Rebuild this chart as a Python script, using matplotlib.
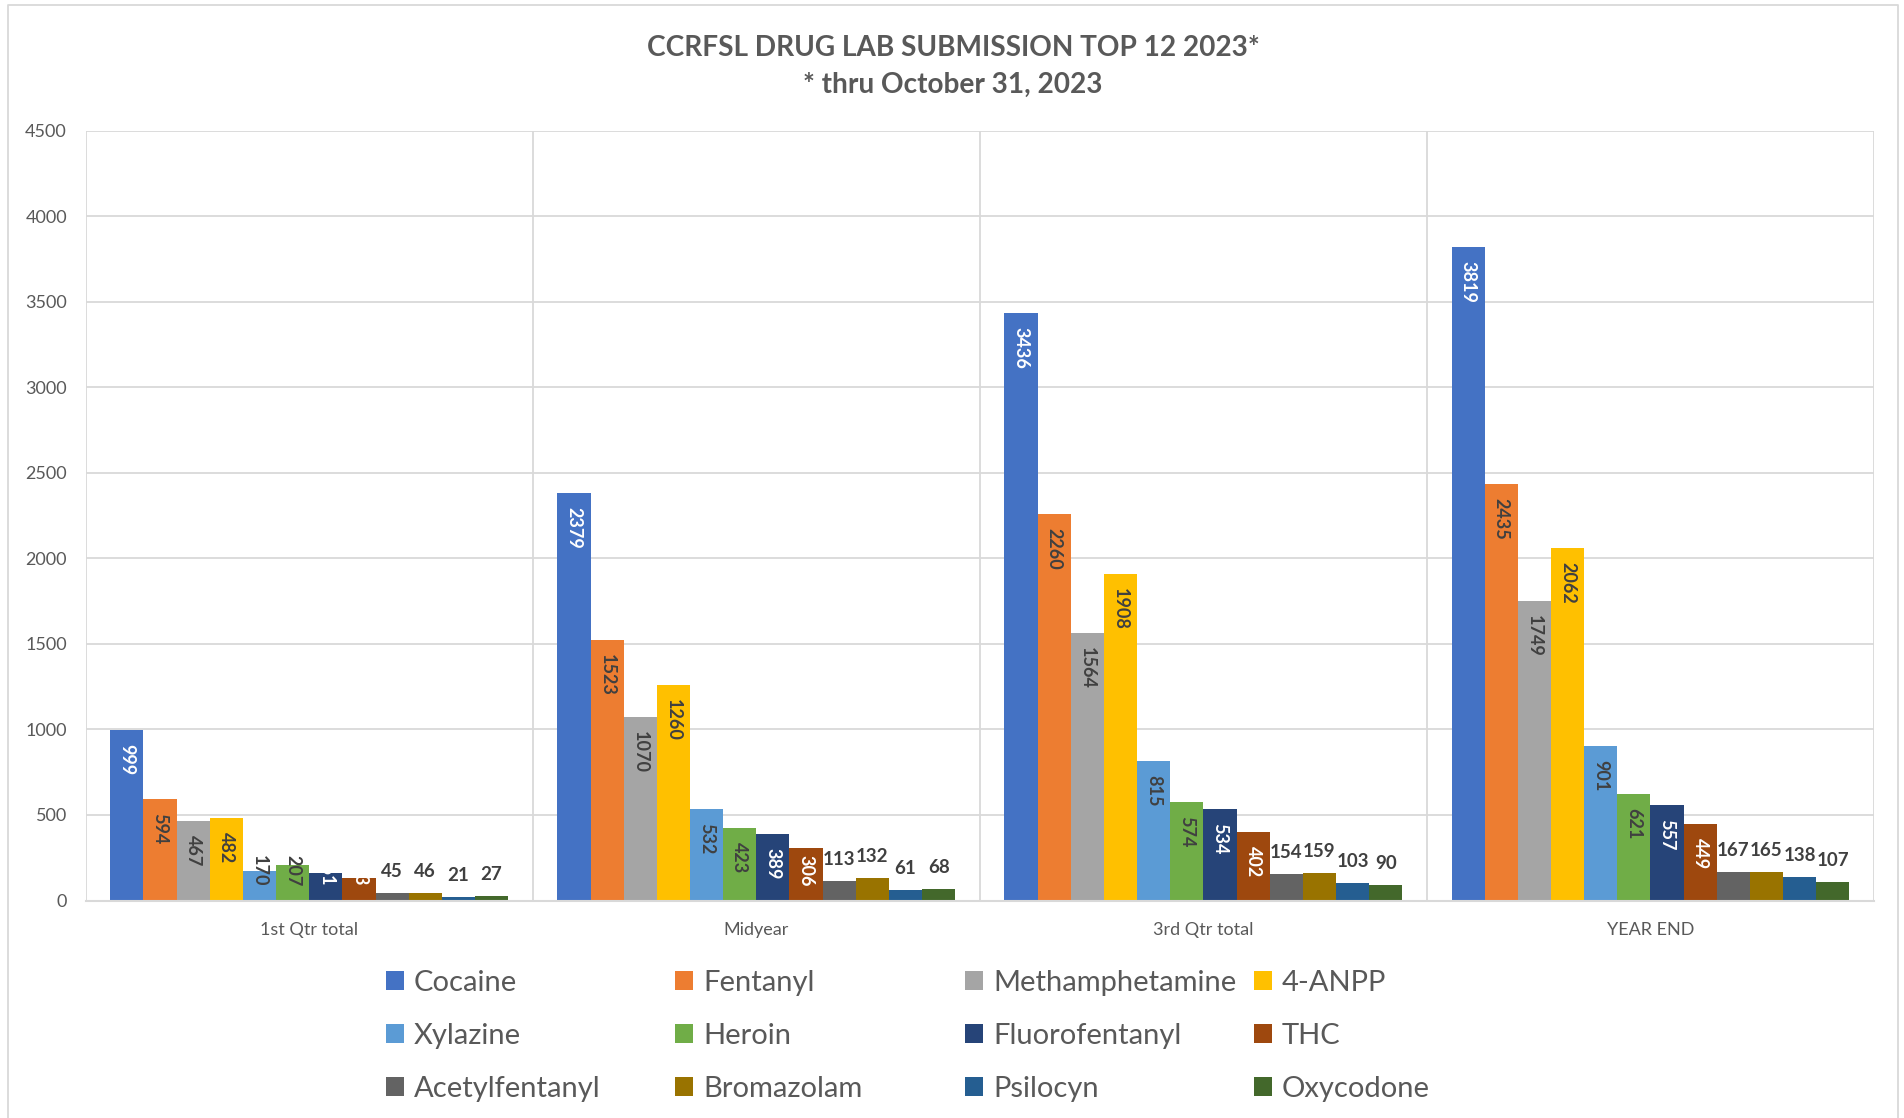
import matplotlib
matplotlib.use('Agg')
import matplotlib.pyplot as plt
from matplotlib.lines import Line2D
import numpy as np

plt.rcParams['font.family'] = ['Lato', 'DejaVu Sans']

# ---------------- data ----------------
categories = ["1st Qtr total", "Midyear", "3rd Qtr total", "YEAR END"]
series_names = ["Cocaine", "Fentanyl", "Methamphetamine", "4-ANPP",
                "Xylazine", "Heroin", "Fluorofentanyl", "THC",
                "Acetylfentanyl", "Bromazolam", "Psilocyn", "Oxycodone"]
cocaine = [999, 2379, 3436, 3819]
fentanyl = [594, 1523, 2260, 2435]
methamphetamine = [467, 1070, 1564, 1749]
anpp = [482, 1260, 1908, 2062]
xylazine = [170, 532, 815, 901]
heroin = [207, 423, 574, 621]
fluorofentanyl = [161, 389, 534, 557]
thc = [133, 306, 402, 449]
acetylfentanyl = [45, 113, 154, 167]
bromazolam = [46, 132, 159, 165]
psilocyn = [21, 61, 103, 138]
oxycodone = [27, 68, 90, 107]
series_values = [cocaine, fentanyl, methamphetamine, anpp, xylazine, heroin,
                 fluorofentanyl, thc, acetylfentanyl, bromazolam, psilocyn, oxycodone]
yticks = list(range(0, 4501, 500))

# ---------------- style ----------------
colors = ["#4472C4", "#ED7D31", "#A5A5A5", "#FFC000", "#5B9BD5", "#70AD47",
          "#264478", "#9E480E", "#636363", "#997300", "#255E91", "#43682B"]
label_colors = ["white", "#404040", "#404040", "#404040", "#404040", "#404040",
                "white", "white", "#404040", "#404040", "#404040", "#404040"]
rotated = [True] * 8 + [False] * 4
TXT = "#595959"
GRID = "#D9D9D9"

W, H = 1904, 1118
fig = plt.figure(figsize=(W / 100, H / 100), dpi=100)
ax = fig.add_axes([85.7 / W, 1 - 900.5 / H, (1874 - 85.7) / W, (900.5 - 130.5) / H])

n = len(series_names)
group = 0.89
bw = group / n
x = np.arange(len(categories))
containers = []
for j, (name, vals, col) in enumerate(zip(series_names, series_values, colors)):
    c = ax.bar(x + (j - (n - 1) / 2) * bw, vals, width=bw, color=col, label=name,
               zorder=3, linewidth=0)
    containers.append(c)

ax.set_xlim(-0.5, len(categories) - 0.5)
ax.set_ylim(0, 4500)
ax.set_yticks(yticks)
ax.set_xticks(x, categories)
ax.set_xticks(np.arange(-0.5, len(categories), 1), minor=True)
ax.tick_params(which='both', length=0, colors=TXT, labelsize=13)
ax.tick_params(axis='y', pad=13.5)
ax.tick_params(axis='x', pad=15.5)
ax.grid(axis='y', which='major', color=GRID, lw=1.3, zorder=0)
ax.grid(axis='x', which='minor', color=GRID, lw=1.3, zorder=0)
ax.grid(axis='x', which='major', visible=False)
for s in ['top', 'right', 'left']:
    ax.spines[s].set_visible(False)
ax.spines['bottom'].set_color(GRID)
ax.spines['bottom'].set_linewidth(1.5)
ax.spines['bottom'].set_zorder(4)

# data labels
rot_anns = []
for j, c in enumerate(containers):
    for bar, v in zip(c, series_values[j]):
        cx = bar.get_x() + bar.get_width() / 2
        if rotated[j]:
            a = ax.annotate(str(v), xy=(cx, v), xytext=(0, -14), textcoords='offset pixels',
                            rotation=270, ha='center', va='top', fontsize=13,
                            fontweight='bold', color=label_colors[j], zorder=5,
                            annotation_clip=False)
            rot_anns.append((a, cx))
        else:
            ax.annotate(str(v), xy=(cx, v), xytext=(0, 16), textcoords='offset pixels',
                        ha='center', va='baseline', fontsize=13.5, fontweight='bold',
                        color=label_colors[j], zorder=5, annotation_clip=False)

# title
fig.text(953 / W, 1 - 47.5 / H, "CCRFSL DRUG LAB SUBMISSION TOP 12 2023*", ha='center',
         va='center', fontsize=20.2, fontweight='bold', color=TXT)
fig.text(953 / W, 1 - 84.5 / H, "* thru October 31, 2023", ha='center',
         va='center', fontsize=20.2, fontweight='bold', color=TXT)

# legend: 4 equal-width columns
col_x = [386, 675, 965, 1254]
for ci in range(4):
    idx = [ci, ci + 4, ci + 8]
    fig.legend([containers[i] for i in idx], [series_names[i] for i in idx],
               loc='center left', bbox_to_anchor=(col_x[ci] / W, 1 - 1036 / H),
               frameon=False, fontsize=21, handlelength=0.62, handleheight=0.62,
               handletextpad=0.34, labelspacing=0.92, borderpad=0, borderaxespad=0,
               labelcolor=TXT)

# chart-area border
fig.add_artist(Line2D([8 / W, 8 / W, 1898 / W, 1898 / W], [0, 1 - 5 / H, 1 - 5 / H, 0],
                      transform=fig.transFigure, color=GRID, lw=1.3))

# keep rotated labels above the baseline for short bars (as Excel does)
fig.canvas.draw()
for a, cx in rot_anns:
    bb = a.get_window_extent()
    base = ax.transData.transform((cx, 0))[1]
    if bb.y0 < base + 14:
        shift = base + 14 - bb.y0
        a.xyann = (0, -14 + shift)

fig.savefig('out.png', dpi=100)
